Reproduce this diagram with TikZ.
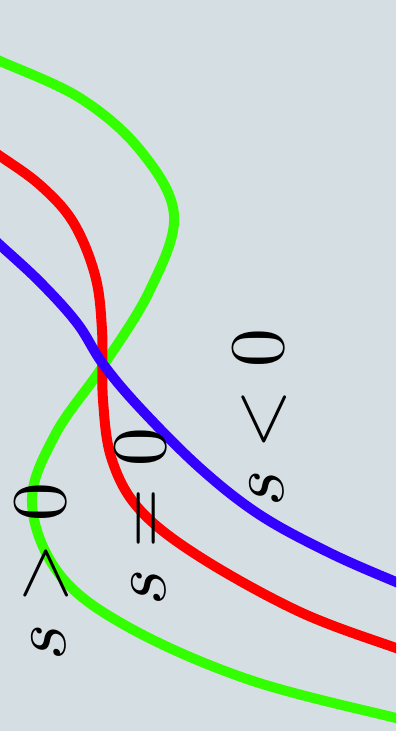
\documentclass[tikz,border=0pt]{standalone}
\definecolor{bgpanel}{RGB}{213,223,227}
\definecolor{sgreen}{RGB}{51,255,0}
\definecolor{sred}{RGB}{255,0,0}
\definecolor{sblue}{RGB}{51,0,255}
\begin{document}
\begin{tikzpicture}[x=0.02cm, y=-0.02cm,
  curve/.style={line width=0.2cm, line join=round},
  slabel/.style={rotate=90, anchor=base, scale=4.4, inner sep=0pt}
]
\fill[bgpanel] (0,0) rectangle (396,731);
\clip (0,0) rectangle (396,731);

% the three curves
\draw[curve, sgreen] plot[smooth, tension=0.6] coordinates {
  (-10,56) (0,61) (80,98) (140,150) (174,215) (150,290) (103,366)
  (55,435) (32,503) (60,575) (130,628) (250,680) (396,718) (410,721)};
\draw[curve, sred] plot[smooth, tension=0.6] coordinates {
  (-10,150) (0,156) (40,185) (73,222) (95,275) (102,330) (103,400)
  (112,460) (140,510) (200,557) (300,612) (396,648) (410,652)};
\draw[curve, sblue] plot[smooth, tension=0.6] coordinates {
  (-10,236) (0,245) (40,282) (77,323) (103,364) (140,408) (200,468)
  (260,515) (330,553) (396,582) (410,587)};

% labels
\node[slabel] (neg) at (283,418) {$s<0$};
\node[slabel] (zero) at (165,517) {$s=0$};
\node[slabel] (pos) at (65,572) {$s>0$};
\end{tikzpicture}
\end{document}
